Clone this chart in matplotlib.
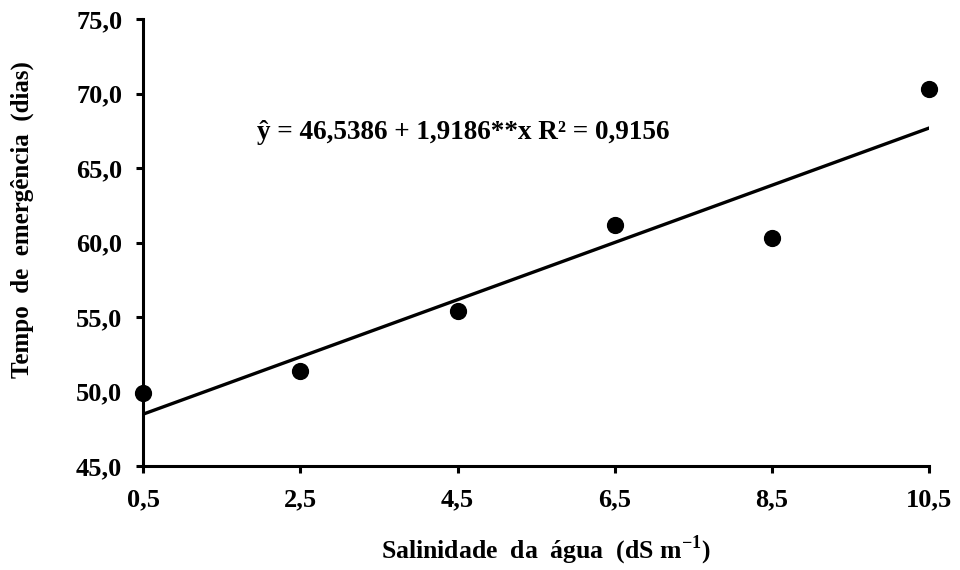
import matplotlib
matplotlib.use('Agg')
import matplotlib.pyplot as plt
import numpy as np

plt.rcParams['font.family'] = ['Liberation Serif', 'DejaVu Serif']
plt.rcParams['font.weight'] = 'bold'
plt.rcParams['mathtext.fontset'] = 'custom'
plt.rcParams['mathtext.rm'] = 'Liberation Serif:bold'
plt.rcParams['mathtext.bf'] = 'Liberation Serif:bold'

# salinidade da agua (dS m-1) e tempo de emergencia (dias)
salinidade = [0.5, 2.5, 4.5, 6.5, 8.5, 10.5]
tempo = [49.9, 51.4, 55.4, 61.2, 60.3, 70.3]
xticks = [0.5, 2.5, 4.5, 6.5, 8.5, 10.5]
yticks = [45, 50, 55, 60, 65, 70, 75]
equacao = 'ŷ = 46,5386 + 1,9186**x R² = 0,9156'

x = np.array(salinidade)
y = np.array(tempo)
b, a = np.polyfit(x, y, 1)
xl = np.array([x.min(), x.max()])

fig = plt.figure(figsize=(9.6, 5.7), dpi=100)
ax = fig.add_axes([0.149, 0.1825, 0.819, 0.784])

ax.plot(xl, a + b*xl, color='black', linewidth=2.4, zorder=2)
ax.scatter(x, y, s=130, color='black', zorder=3, clip_on=False)

ax.set_xlim(0.5, 10.5)
ax.set_ylim(45, 75)
ax.set_xticks(xticks)
ax.set_yticks(yticks)
ax.set_xticklabels([('%.1f' % v).replace('.', ',') for v in xticks])
ax.set_yticklabels([('%.1f' % v).replace('.', ',') for v in yticks])
ax.tick_params(axis='y', direction='out', length=5, width=2.2,
               labelsize=19, pad=10)
ax.tick_params(axis='x', direction='out', length=5, width=2.2,
               labelsize=19, pad=11)
for lab in ax.get_xticklabels() + ax.get_yticklabels():
    lab.set_fontweight('bold')

for s in ['top', 'right']:
    ax.spines[s].set_visible(False)
for s in ['left', 'bottom']:
    ax.spines[s].set_linewidth(2.2)

ax.text(1.95, 67.4, equacao, fontsize=19.5, fontweight='bold', va='center', ha='left')

fig.text(0.568, 0.035, r'Salinidade  da  água  (dS m$^{-1}$)', fontsize=18.5,
         fontweight='bold', ha='center', va='center')
fig.text(0.023, 0.615, 'Tempo  de  emergência  (dias)', fontsize=18,
         fontweight='bold', ha='center', va='center', rotation=90)

fig.savefig('out.png', dpi=100)
